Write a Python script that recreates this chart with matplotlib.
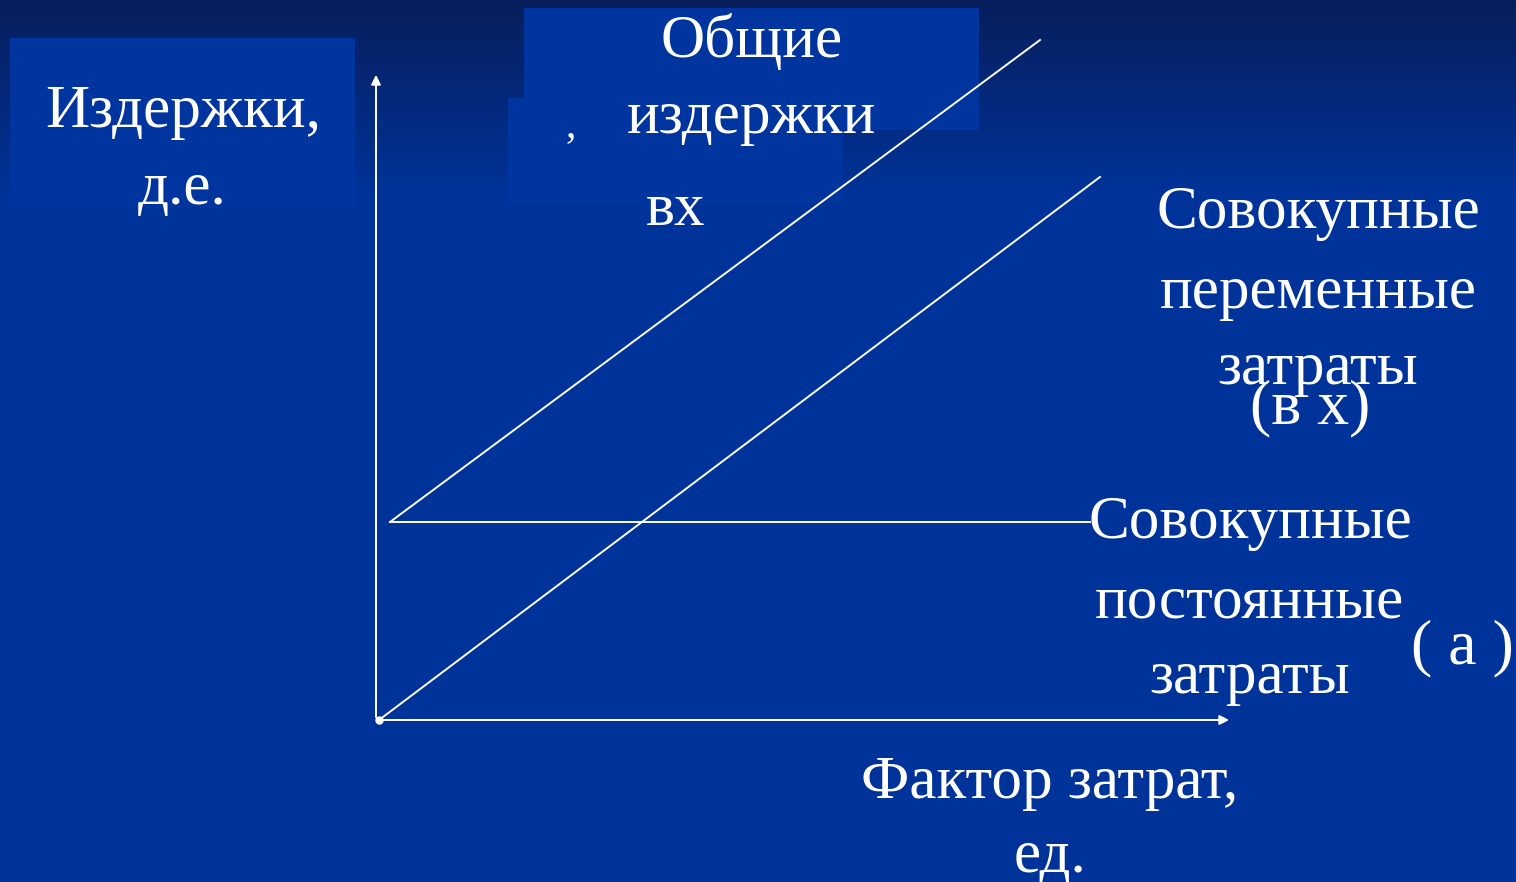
import numpy as np
import matplotlib
matplotlib.use("Agg")
import matplotlib.pyplot as plt
from matplotlib.patches import Rectangle

# cost-volume chart, units ~ arbitrary
q_fixed = [11, 711]
c_fixed = [198, 198]
q_total = [11, 661]
c_total = [198, 680]
q_var = [0, 721]
c_var = [0, 543]

W, H = 1516, 882
fig = plt.figure(figsize=(W / 100, H / 100), dpi=100)

# background with dark top gradient
bg = fig.add_axes([0, 0, 1, 1])
bg.set_xlim(0, W)
bg.set_ylim(H, 0)
bg.axis("off")
top = np.array([8, 30, 92]) / 255
mid = np.array([0, 51, 153]) / 255
t = np.clip(np.linspace(0, 1, H) / 0.22, 0, 1)[:, None]
grad = top * (1 - t) + mid * t
img = np.repeat(grad[:, None, :], 2, axis=1)
bg.imshow(img, extent=[0, W, H, 0], aspect="auto", zorder=0)
box_col = "#00349e"
for (x0, y0, w, h) in [(10, 38, 345, 170), (524, 8, 455, 122), (508, 98, 335, 105)]:
    bg.add_patch(Rectangle((x0, y0), w, h, color=box_col, lw=0, zorder=1))

ax = fig.add_axes([0, 0, 1, 1])
ax.patch.set_alpha(0)
ax.set_xlim(-379, W - 379)
ax.set_ylim(720 - H, 720)
ax.axis("off")

lw = 1.4
ax.plot(q_fixed, c_fixed, color="white", lw=lw)
ax.plot(q_total, c_total, color="white", lw=lw)
ax.plot(q_var, c_var, color="white", lw=lw)
ax.annotate("", xy=(853, 0), xytext=(0, 0),
            arrowprops=dict(arrowstyle="-|>", color="white", lw=lw, mutation_scale=14))
ax.annotate("", xy=(-3, 648), xytext=(-3, 0),
            arrowprops=dict(arrowstyle="-|>", color="white", lw=lw, mutation_scale=14))
ax.plot([0], [0], "o", color="white", ms=5)

font = "Liberation Serif"


def label(px, py, s, size=44):
    fig.text(px / W, 1 - py / H, s, color="white", fontsize=size, family=font,
             ha="center", va="center", zorder=5)


label(183, 112, "Издержки,")
label(182, 189, "д.е.")
label(752, 42, "Общие")
label(752, 118, "издержки")
label(570, 126, "‚", 30)
label(676, 210, "вх")
label(1318, 213, "Совокупные")
label(1318, 293, "переменные")
label(1318, 369, "затраты")
label(1310, 408, "(в х)", 46)
label(1250, 523, "Совокупные")
label(1250, 603, "постоянные")
label(1250, 678, "затраты")
label(1462, 648, "( а )", 46)
label(1050, 783, "Фактор затрат,")
label(1050, 857, "ед.")

fig.savefig("out.png", dpi=100)
